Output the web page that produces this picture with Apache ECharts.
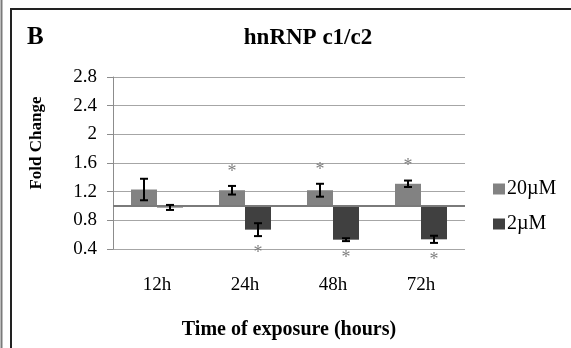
<!DOCTYPE html>
<html>
<head>
<meta charset="utf-8">
<script src="https://cdn.jsdelivr.net/npm/echarts@6/dist/echarts.min.js"></script>
<style>
  html, body { margin: 0; padding: 0; background: #fff; }
  #chart { width: 571px; height: 348px; }
</style>
</head>
<body>
<div id="chart"></div>
<script>
const categories = ['12h', '24h', '48h', '72h'];
const yTicks = [0.4, 0.8, 1.2, 1.6, 2, 2.4, 2.8];
const high = [1.23, 1.22, 1.22, 1.31];      // 20µM
const highErr = [0.15, 0.06, 0.09, 0.045];
const highSig = [0, 1, 1, 1];
const low = [0.98, 0.67, 0.53, 0.535];      // 2µM
const lowErr = [0.035, 0.09, 0.02, 0.05];
const lowSig = [0, 1, 1, 1];
const baseline = 1;

const serif = '"Liberation Serif", "DejaVu Serif", serif';
const barW = 26;

const chart = echarts.init(document.getElementById('chart'));

// bars hang from the 1.0 baseline: an invisible stacked base + the visible part
const baseOf = vals => vals.map(v => Math.min(v, baseline));
const spanOf = vals => vals.map(v => +Math.abs(v - baseline).toFixed(4));

// error bars + significance stars, drawn next to each bar
function errorSeries(name, vals, errs, sig, side) {
  return {
    type: 'custom',
    name: name + ' err',
    silent: true,
    z: 5,
    data: vals.map((v, i) => [i, v, errs[i], sig[i]]),
    renderItem: (params, api) => {
      const i = api.value(0), v = api.value(1), e = api.value(2);
      const dx = side * barW / 2;
      const top = api.coord([i, v + e]);
      const bot = api.coord([i, v - e]);
      const x = top[0] + dx;
      const st = { stroke: '#000', lineWidth: 2 };
      const kids = [
        { type: 'line', shape: { x1: x, y1: top[1], x2: x, y2: bot[1] }, style: st },
        { type: 'line', shape: { x1: x - 4, y1: top[1], x2: x + 4, y2: top[1] }, style: st },
        { type: 'line', shape: { x1: x - 4, y1: bot[1], x2: x + 4, y2: bot[1] }, style: st }
      ];
      if (api.value(3)) {
        const up = v >= baseline;
        kids.push({
          type: 'text',
          style: {
            text: '*', x: x, y: up ? top[1] - 14 : bot[1] + 17,
            fill: '#7f7f7f', font: '18px ' + serif,
            align: 'center', verticalAlign: 'middle'
          }
        });
      }
      return { type: 'group', children: kids };
    }
  };
}

chart.setOption({
  animation: false,
  textStyle: { fontFamily: serif, color: '#000' },
  graphic: [
    { type: 'line', shape: { x1: 1.5, y1: 0, x2: 1.5, y2: 348 }, style: { stroke: '#7a7a7a', lineWidth: 2 } },
    { type: 'polyline', shape: { points: [[11, 348], [11, 9], [571, 9]] }, style: { stroke: '#222', lineWidth: 2, fill: null } },
    { type: 'text', left: 27, top: 25, style: { text: 'B', font: 'bold 25px ' + serif, fill: '#000' } }
  ],
  title: {
    text: 'hnRNP c1/c2',
    left: 303, top: 22,
    textAlign: 'center',
    textStyle: { fontFamily: serif, fontWeight: 'bold', fontSize: 23, color: '#000' }
  },
  legend: {
    data: ['20µM', '2µM'],
    orient: 'vertical',
    left: 488, top: 174,
    itemWidth: 12, itemHeight: 11, itemGap: 15,
    icon: 'rect',
    textStyle: { fontFamily: serif, fontSize: 20, color: '#000', padding: [0, 0, 0, -3] }
  },
  grid: { left: 113, right: 106, top: 77, bottom: 99 },
  xAxis: {
    type: 'category',
    data: categories,
    name: 'Time of exposure (hours)',
    nameLocation: 'middle',
    nameGap: 71,
    nameTextStyle: { fontFamily: serif, fontWeight: 'bold', fontSize: 20, color: '#000' },
    axisLine: { show: false },
    axisTick: { show: false },
    axisLabel: { fontFamily: serif, fontSize: 19, color: '#000', margin: 27 }
  },
  yAxis: {
    type: 'value',
    min: yTicks[0], max: yTicks[yTicks.length - 1], interval: 0.4,
    name: 'Fold Change',
    nameLocation: 'middle',
    nameRotate: 90,
    nameGap: 68,
    nameTextStyle: { fontFamily: serif, fontWeight: 'bold', fontSize: 17, color: '#000', padding: [0, 0, 0, 40] },
    axisLine: { show: true, lineStyle: { color: '#8c8c8c', width: 1 } },
    axisTick: { show: true, length: 6, lineStyle: { color: '#8c8c8c' } },
    splitLine: { lineStyle: { color: '#a6a6a6', width: 1 } },
    axisLabel: {
      fontFamily: serif, fontSize: 19, color: '#000', margin: 16,
      formatter: v => String(yTicks.find(t => Math.abs(t - v) < 1e-6) ?? v)
    }
  },
  series: [
    {
      type: 'bar', name: 'base20', stack: 'a', data: baseOf(high), silent: true,
      barWidth: barW, barGap: '0%', itemStyle: { color: 'transparent' }
    },
    {
      type: 'bar', name: '20µM', stack: 'a', data: spanOf(high),
      barWidth: barW, barGap: '0%',
      itemStyle: { color: '#828282' },
      markLine: {
        silent: true, symbol: 'none', label: { show: false },
        lineStyle: { color: '#7a7a7a', width: 2, type: 'solid' },
        data: [{ yAxis: baseline }]
      }
    },
    {
      type: 'bar', name: 'base2', stack: 'b', data: baseOf(low), silent: true,
      barWidth: barW, barGap: '0%', itemStyle: { color: 'transparent' }
    },
    {
      type: 'bar', name: '2µM', stack: 'b', data: spanOf(low),
      barWidth: barW, barGap: '0%',
      itemStyle: { color: '#404040' }
    },
    errorSeries('20µM', high, highErr, highSig, -1),
    errorSeries('2µM', low, lowErr, lowSig, 1)
  ]
});
</script>
</body>
</html>
